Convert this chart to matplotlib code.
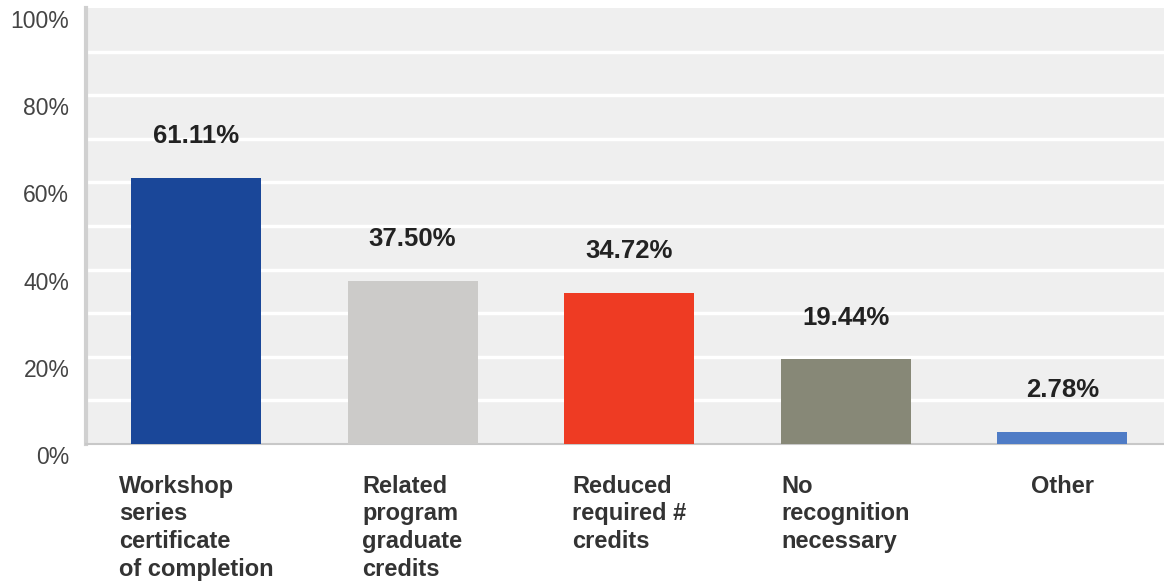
import matplotlib.pyplot as plt
import matplotlib.transforms as mtransforms

categories = ['Workshop\nseries\ncertificate\nof completion',
              'Related\nprogram\ngraduate\ncredits',
              'Reduced\nrequired #\ncredits',
              'No\nrecognition\nnecessary',
              'Other']
values = [61.11, 37.50, 34.72, 19.44, 2.78]
colors = ['#1a4799', '#cccbc9', '#ee3b23', '#878877', '#4f7cc6']
yticks = [0, 20, 40, 60, 80, 100]

plt.rcParams['font.family'] = ['Liberation Sans', 'DejaVu Sans']

fig = plt.figure(figsize=(11.64, 5.83), dpi=100)
ax = fig.add_axes([86 / 1164, 1 - 444 / 583, 1 - 86 / 1164, 436 / 583])
ax.set_facecolor('#efefef')

x = range(len(values))
ax.bar(x, values, width=0.6, color=colors, zorder=3)

for xi, v in zip(x, values):
    ax.text(xi, v + 9.5, f'{v:.2f}%', ha='center', va='center',
            fontsize=18.5, fontweight='bold', color='#222222')

ax.set_xlim(-0.508, 4.47)
ax.set_ylim(0, 100)

# white grid every 10%
for g in range(10, 100, 10):
    ax.axhline(g, color='white', lw=2.5, zorder=1)

ax.set_yticks(yticks)
ax.set_yticklabels([f'{t}%' for t in yticks], fontsize=16.5, color='#444444')
ax.tick_params(axis='y', length=0, pad=12)
offset = mtransforms.ScaledTranslation(0, -11 / 100, fig.dpi_scale_trans)
for lbl in ax.get_yticklabels():
    lbl.set_transform(lbl.get_transform() + offset)

ax.set_xticks([])
for xi, cat in zip(x, categories):
    ax.text(xi, -7, cat, ha='center', va='top', multialignment='left',
            fontsize=17, fontweight='bold', color='#333333',
            linespacing=1.27, transform=ax.transData)

for side in ['top', 'right']:
    ax.spines[side].set_visible(False)
ax.spines['left'].set_color('#d0d0d0')
ax.spines['left'].set_linewidth(3)
ax.spines['bottom'].set_color('#c8c8c8')
ax.spines['bottom'].set_linewidth(1.5)

fig.savefig('out.png', dpi=100)
